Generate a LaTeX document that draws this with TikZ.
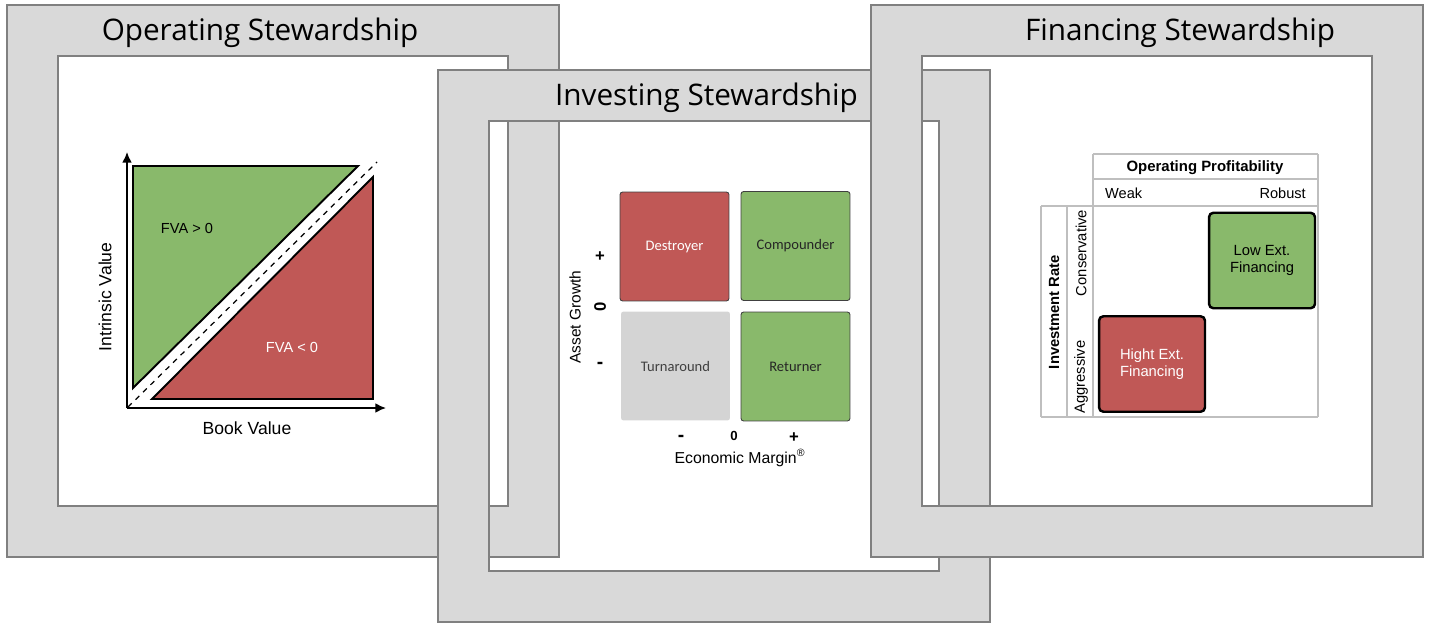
\documentclass[tikz,border=0pt]{standalone}
\usepackage{fontspec}
\setmainfont{Liberation Sans}
\newfontfamily\titlefont{Open Sans}
\newfontfamily\cellfont{Carlito}
\usetikzlibrary{arrows.meta}

\definecolor{framegray}{RGB}{217,217,217}
\definecolor{frameedge}{RGB}{128,128,128}
\definecolor{fvagreen}{RGB}{137,185,107}
\definecolor{fvared}{RGB}{192,88,86}
\definecolor{cellgray}{RGB}{212,212,212}
\definecolor{tableline}{RGB}{191,191,191}
\definecolor{darktext}{RGB}{38,38,38}

\begin{document}
\begin{tikzpicture}[x=0.02cm, y=-0.02cm,
    ring/.style={fill=framegray, draw=frameedge, line width=1pt, even odd rule},
    title/.style={font=\titlefont\fontsize{16.9}{19}\selectfont, anchor=base},
    axis/.style={line width=0.9pt, -{Latex[length=6pt, width=5.5pt]}},
    quad/.style={minimum width=2.18cm, minimum height=2.18cm, rounded corners=1.5pt,
        draw=black!75, line width=0.5pt, font=\cellfont\fontsize{8.3}{10}\selectfont},
    sign/.style={font=\bfseries\fontsize{9.5}{11}\selectfont},
    tabline/.style={draw=tableline, line width=0.6pt},
    finbox/.style={draw=black, line width=1.4pt, rounded corners=2.5pt, align=center,
        minimum width=2.12cm, minimum height=1.91cm, font=\fontsize{8.4}{10}\selectfont}]
    \useasboundingbox (0,0) rectangle (1430,635);

    % Operating frame
    \path[ring] (7,5) rectangle (559,557) (58,56) rectangle (508,506);
    \node[title] (optitle) at (260,40.5) {Operating Stewardship};

    % FVA triangles
    \fill[fvagreen, draw=black, line width=1.1pt] (133,166) -- (358,166) -- (133,388) -- cycle;
    \fill[fvared, draw=black, line width=1.1pt] (152,399) -- (373,399) -- (373,177) -- cycle;
    \draw[dashed, line width=0.7pt] (128,407) -- (377,162);
    \node[font=\fontsize{8.3}{10}\selectfont] (fvapos) at (187,228) {FVA > 0};
    \node[white, font=\fontsize{8.3}{10}\selectfont] (fvaneg) at (292,347) {FVA < 0};

    % Axes
    \coordinate (origin) at (127,408);
    \coordinate (ytip) at (127,152);
    \coordinate (xtip) at (386,408);
    \draw[axis] (origin) -- (ytip);
    \draw[axis] (origin) -- (xtip);
    \node[font=\fontsize{10}{12}\selectfont] (bookv) at (247,428) {Book Value};
    \node[rotate=90, font=\fontsize{10}{12}\selectfont] (intrv) at (105,297) {Intrinsic Value};

    % Investing frame
    \path[ring] (438,70) rectangle (990,622) (489,121) rectangle (939,571);
    \node[title] (invtitle) at (706.5,105.5) {Investing Stewardship};

    % Quadrants
    \node[quad, fill=fvared, text=white] (destroyer) at (674.5,246.5) {Destroyer};
    \node[quad, fill=fvagreen, text=darktext] (compounder) at (795.5,246) {Compounder};
    \node[quad, fill=cellgray, draw=none, text=black!75] (turnaround) at (675.5,366) {Turnaround};
    \node[quad, fill=fvagreen, text=darktext] (returner) at (795.5,366.5) {Returner};

    % Quadrant axes
    \node[rotate=90, font=\fontsize{8.8}{10}\selectfont] (assetg) at (575,317) {Asset Growth};
    \node[sign] (gplus) at (600,257) {+};
    \node[sign, rotate=90] (gzero) at (600,307) {0};
    \node[sign, font=\bfseries\fontsize{11}{12}\selectfont] (gminus) at (600,365) {-};
    \node[sign, font=\bfseries\fontsize{11}{12}\selectfont] (mminus) at (681,438) {-};
    \node[sign, font=\bfseries\fontsize{7.5}{9}\selectfont] (mzero) at (734,436) {0};
    \node[sign] (mplus) at (794,438) {+};
    \node[font=\fontsize{9}{11}\selectfont] (econm) at (740,458) {Economic Margin\textsuperscript{\textregistered}};

    % Financing frame
    \path[ring] (871,5) rectangle (1423,557) (922,56) rectangle (1372,506);
    \node[title] (fintitle) at (1180,40.5) {Financing Stewardship};

    % Table
    \draw[tabline] (1093,154) -- (1318,154);
    \draw[tabline] (1093,179) -- (1318,179);
    \draw[tabline] (1041,206) -- (1318,206);
    \draw[tabline] (1041,417) -- (1318,417);
    \draw[tabline] (1041,206) -- (1041,417);
    \draw[tabline] (1067,206) -- (1067,417);
    \draw[tabline] (1093,154) -- (1093,417);
    \draw[tabline] (1318,154) -- (1318,417);
    \node[font=\bfseries\fontsize{8.5}{10}\selectfont] (opprof) at (1205,168) {Operating Profitability};
    \node[anchor=west, font=\fontsize{8.3}{10}\selectfont] (weak) at (1099,193) {Weak};
    \node[anchor=east, font=\fontsize{8.3}{10}\selectfont] (robust) at (1312,193) {Robust};
    \node[rotate=90, font=\bfseries\fontsize{8.4}{10}\selectfont] (invrate) at (1054,312) {Investment Rate};
    \node[rotate=90, font=\fontsize{8.4}{10}\selectfont] (conserv) at (1081,253) {Conservative};
    \node[rotate=90, font=\fontsize{8.4}{10}\selectfont] (aggress) at (1081,377) {Aggressive};

    % Financing boxes
    \node[finbox, fill=fvagreen] (lowext) at (1262,260.5) {Low Ext.\\Financing};
    \node[finbox, fill=fvared, text=white] (highext) at (1152,364) {Hight Ext.\\Financing};
\end{tikzpicture}
\end{document}
